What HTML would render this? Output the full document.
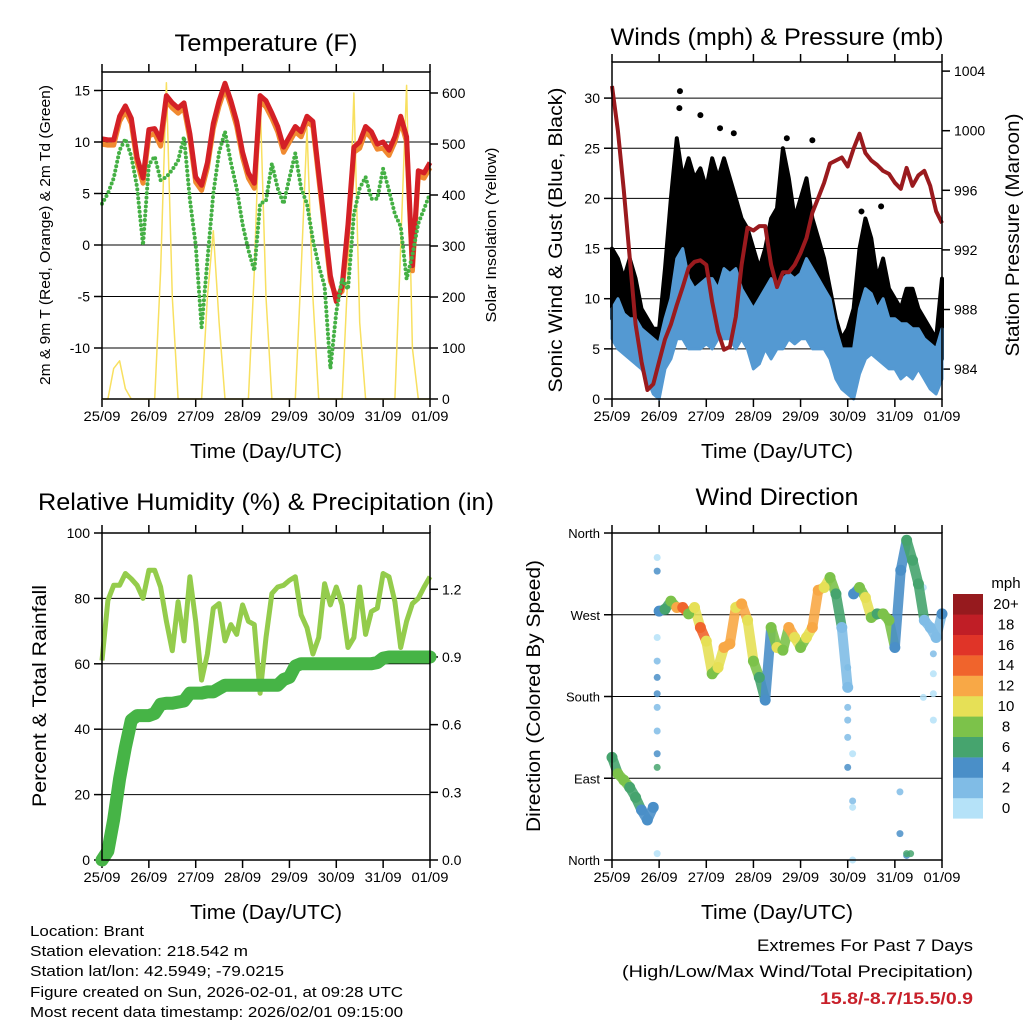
<!DOCTYPE html>
<html><head><meta charset="utf-8"><style>
body{margin:0;background:#fff}
svg{display:block}
text{font-family:"Liberation Sans",Arial,sans-serif;fill:#000}
</style></head><body>
<svg id="fig" width="1024" height="1024" viewBox="0 0 1024 1024" xmlns="http://www.w3.org/2000/svg">
<g id="p1"></g>
<g id="p2"></g>
<g id="p3"></g>
<g id="p4"></g>
<g id="info">
<text x="30" y="936" font-size="15" textLength="114" lengthAdjust="spacingAndGlyphs">Location: Brant</text>
<text x="30" y="956" font-size="15" textLength="218" lengthAdjust="spacingAndGlyphs">Station elevation: 218.542 m</text>
<text x="30" y="976" font-size="15" textLength="254" lengthAdjust="spacingAndGlyphs">Station lat/lon: 42.5949; -79.0215</text>
<text x="30" y="997" font-size="15" textLength="373" lengthAdjust="spacingAndGlyphs">Figure created on Sun, 2026-02-01, at 09:28 UTC</text>
<text x="30" y="1017" font-size="15" textLength="373" lengthAdjust="spacingAndGlyphs">Most recent data timestamp: 2026/02/01 09:15:00</text>
<text x="757" y="951" font-size="17" textLength="216" lengthAdjust="spacingAndGlyphs">Extremes For Past 7 Days</text>
<text x="622" y="977" font-size="17" textLength="351" lengthAdjust="spacingAndGlyphs">(High/Low/Max Wind/Total Precipitation)</text>
<text x="820" y="1004" font-size="17" font-weight="bold" style="fill:#c8202a" textLength="153" lengthAdjust="spacingAndGlyphs">15.8/-8.7/15.5/0.9</text>
</g>
</svg>
<script>
// ---- shared time axis ----
const dayLabels=["25/09","26/09","27/09","28/09","29/09","30/09","31/09","01/09"];
// 3-hourly samples (hours from start)
const hours=[0,3,6,9,12,15,18,21,24,27,30,33,36,39,42,45,48,51,54,57,60,63,66,69,72,75,78,81,84,87,90,93,96,99,102,105,108,111,114,117,120,123,126,129,132,135,138,141,144,147,150,153,156,159,162,165,168];
// ---- Temperature panel ----
const tempRed=[10.3,10.2,10.2,12.5,13.5,12.3,8.5,6.5,11.2,11.3,10.2,14.5,13.8,13.3,13.8,10.8,6.6,5.8,8,11.8,14,15.7,14,12,9,7,6,14.5,14,12.8,11.5,9.5,10.5,11.5,11,12.5,12,7,2,-3,-5.5,-4,2,9.5,10,11.5,11,9.8,10,9.2,10.5,12.5,10.5,-2,7.2,7,8];
const tempOrange=[9.8,9.7,9.7,12,13,11.8,8,6,10.6,10.8,9.6,14,13.3,12.8,13.3,10.3,6.1,5.3,7.5,11.3,13.5,15.2,13.5,11.5,8.5,6.5,5.5,14,13.4,12.3,11,9,10,11,10.5,12,11.5,6.5,1.5,-3.5,-5,-4.5,1.5,9,9.4,11,10.4,9.3,9.4,8.7,10,12,10,-2.5,6.7,6.5,7.5];
const dewGreen=[4,5,6.5,9.2,10.3,8.6,5.6,0,7.8,8.6,6.3,6.6,7.3,8.2,10.5,4.4,0,-8,-1.5,5,9,11,8,5.5,2,-0.5,-2.5,4,4.3,7.9,5.5,4,6.5,8.9,5.5,4,0.5,-2,-4,-12,-6.5,-3.3,-4.3,3,5.5,6.6,4.5,4.5,7.4,5.3,3,1.8,-3.3,-1,2.1,3.5,5];
const solar=[0,0,60,75,20,0,0,0,0,0,250,620,200,0,0,0,0,0,200,330,150,0,0,0,0,0,250,590,200,0,0,0,0,0,250,530,200,0,0,0,0,0,250,600,150,0,0,0,0,0,0,300,615,100,0,0,0];
const tempTicks=[15,10,5,0,-5,-10];
const solarTicks=[600,500,400,300,200,100,0];
// ---- Winds panel ----
const windHi=[9,10,8.5,8,8,7,6.5,6,5.5,8,10,14,15,12,11,11.5,12,12,11,13,12.5,13,11,10,9,10,11,12,11,12,12.5,12,12.5,14,13,12,11,10,7,5,5,5,9,11,10.5,9,10,8,8,7.5,7.5,7,7,6,5.5,5,7];
const windLo=[6,5,4.5,4,3.5,3,2,0.5,0,3,4,6,6,5,5,5,5.5,5,6,6,6,5,6,5,3,3.5,5,4,5,5,6,5.5,6,6,5,5,5,4,2,1,0.5,0,2.5,4,4.5,4,3.5,3,3,2,2.5,2,3,2,1,0.5,2];
const gustHi=[15,14,12,14,12,9,8,7,7,13,20,26,22,24,22,23,21,24,22,24,22,20,18,17,15,13,15,18,19,25,22,18,20,22,18,16,14,11,8,6,7,9,15,18,16,12,14,11,10,9,11,11,9,8,7,6,12];
const gustLo=[8,8,7,6,5,4,3,2,1,4,7,9,10,10,10,11,10,10,11,12,10,9,8,7,6,6,7,8,8,10,10,9,10,9,8,8,6,5,3,2,1,1,5,8,7,6,5,5,4,4,5,4,3,3,3,2,4];
const gustOutT=[34.6,34.3,45,55,62,89,102,127,137];
const gustOutV=[30.7,29,28.3,27,26.5,26,25.8,18.7,19.2];
const pressure=[1003,1000,996,991.5,987,984.5,982.6,983,984.5,986,987,988.3,989.5,990.8,991.2,991.3,991,988.5,986.5,985.3,985.5,987.5,991,993.5,993.3,993.6,993.6,991,989.5,990.5,990.5,991,991.8,992.8,994.5,995.5,996.5,997.8,998,998.2,997.6,998.8,999.8,998.5,998,997.7,997.3,997.1,996.5,996.1,997.5,996.3,997,997.3,996.3,994.6,993.8];
const windTicks=[0,5,10,15,20,25,30];
const presTicks=[1004,1000,996,992,988,984];
// ---- Humidity panel ----
const rh=[61,79.4,84,84,87.6,86,84,80,88.6,88.6,83.5,73,64,79,67,86.6,73,55,63,77,78.4,67,72,69,78,73,72,51,68,81.5,83.5,84,85.5,86.6,75,71,63,68,84.5,78,83.5,78,65,68,83.5,69,76,77,87.6,86.6,79,65,73,78.4,80,83.5,86.6];
const precip=[0,0.04,0.18,0.36,0.5,0.62,0.64,0.64,0.64,0.65,0.69,0.695,0.695,0.7,0.705,0.74,0.74,0.74,0.745,0.745,0.76,0.775,0.775,0.775,0.775,0.775,0.775,0.775,0.775,0.775,0.775,0.8,0.81,0.86,0.87,0.87,0.87,0.87,0.87,0.87,0.87,0.87,0.87,0.87,0.87,0.87,0.87,0.875,0.895,0.9,0.9,0.9,0.9,0.9,0.9,0.9,0.9];
const rhTicks=[0,20,40,60,80,100];
const precipTicks=[0,0.3,0.6,0.9,1.2];
// ---- Wind direction panel ----
const dirDeg=[113,95,88,80,69,55,44,58,274,276,285,278,278,271,278,256,241,205,212,234,238,278,282,264,219,201,176,256,234,231,256,245,234,245,256,297,300,311,293,256,190,293,300,289,267,271,271,264,234,319,352,330,304,264,256,245,271];
const dirSpeed=[7,9,8,7,6,5,5,4,5,6,8,12,14,9,10,14,11,8,10,12,12,10,12,10,8,6,5,8,10,8,12,11,9,10,13,12,10,8,6,3,2,4,9,10,8,6,9,8,4,4,6,6,6,2,3,2,4];
const extraT=[23,23,23,23,23,23,23,23,23,23,23,120,120,120,120,120,120,122.5,122.5,122.5,122.5,146.6,146.6,150,150,152,163.6,163.6,163.6,163.6,158.5,158.5];
const extraDeg=[333,318,245,219,201,183,168,142,117,102,7,212,190,168,154,135,102,117,65,58,0,75,29,5,7,7,227,205,183,154,179,300];
const extraSpeed=[1,4,1,3,4,4,2,3,5,6,1,2,4,2,3,2,4,1,2,1,1,3,4,5,6,6,2,1,1,1,1,1];
const dirTicks=[0,90,180,270,360];
const dirLabels=["North","East","South","West","North"];
const speedBins=["0","2","4","6","8","10","12","14","16","18","20+"];
const speedColors=["#b5e2f8","#80bce6","#4a8fc8","#46a46e","#7cc24a","#e6e056","#f8a846","#f0642c","#e03428","#c01e26","#961a1e"];

const NS="http://www.w3.org/2000/svg";
function mk(parent,tag,attrs,txt){const e=document.createElementNS(NS,tag);for(const k in attrs)e.setAttribute(k,attrs[k]);if(txt!==undefined)e.textContent=txt;parent.appendChild(e);return e;}
function pathD(xs,ys){let d="";for(let i=0;i<xs.length;i++)d+=(i?"L":"M")+xs[i].toFixed(1)+","+ys[i].toFixed(1);return d;}

function frame(g,L,R,T,B,xTitleY){
  const xs=t=>L+t*(R-L)/168;
  for(let d=0;d<8;d++){
    const x=xs(d*24);
    let tk=mk(g,"line",{x1:x,x2:x,y1:B,y2:B+8,stroke:"#000","stroke-width":1.5});
    
    
    let tk2=mk(g,"line",{x1:x,x2:x,y1:T,y2:T-8,stroke:"#000","stroke-width":1.5});
    
    
    let lb=mk(g,"text",{x:x,y:B+22,"font-size":14,"text-anchor":"middle",textLength:37,lengthAdjust:"spacingAndGlyphs"},dayLabels[d]);
    
    
  }
  let tt=mk(g,"text",{x:(L+R)/2,y:xTitleY,"font-size":20,"text-anchor":"middle",textLength:152,lengthAdjust:"spacingAndGlyphs"},"Time (Day/UTC)");
  
  
  return xs;
}
function border(g,L,R,T,B){
  let r=mk(g,"rect",{x:L,y:T,width:R-L,height:B-T,fill:"none",stroke:"#000","stroke-width":1.5});
  
  
}
function grid(g,L,R,y){
  let l=mk(g,"line",{x1:L,x2:R,y1:y,y2:y,stroke:"#000","stroke-width":1});
  
  
}
function ytick(g,x,y,dir,label,anchor,fs){
  let l=mk(g,"line",{x1:x,x2:x+dir*8,y1:y,y2:y,stroke:"#000","stroke-width":1.5});
  
  
  let t=mk(g,"text",{x:x+dir*12,y:y+5,"font-size":fs||14,"text-anchor":anchor},label);
  
  
}
function vtitle(g,x,y,txt,fs,len,name){
  let t=mk(g,"text",{x:0,y:0,"font-size":fs,"text-anchor":"middle",transform:`translate(${x},${y}) rotate(-90)`},txt);
  if(len){t.setAttribute("textLength",len);t.setAttribute("lengthAdjust","spacingAndGlyphs");}
  
  
}
function title(g,x,y,txt,len,name){
  let t=mk(g,"text",{x:x,y:y,"font-size":24,"text-anchor":"middle",textLength:len,lengthAdjust:"spacingAndGlyphs"},txt);
  
  
}

// ===== Panel 1 =====
(function(){
  const g=document.getElementById("p1");
  const L=102,R=430,T=72,B=399;
  const yT=v=>245-v*10.3, yS=v=>399-v*0.51;
  title(g,266,51,"Temperature (F)",183,"temperature-title");
  const xs=frame(g,L,R,T,B,458);
  tempTicks.forEach(v=>{grid(g,L,R,yT(v));ytick(g,L,yT(v),-1,String(v),"end");});
  solarTicks.forEach(v=>{ytick(g,R,yS(v),1,String(v),"start");});
  const X=hours.map(xs);
  let s=mk(g,"path",{d:pathD(X,solar.map(yS)),fill:"none",stroke:"#f8e060","stroke-width":1.5,"stroke-linejoin":"round"});
  
  
  let o=mk(g,"path",{d:pathD(X,tempOrange.map(yT)),fill:"none",stroke:"#f08a30","stroke-width":5,"stroke-linejoin":"round"});
  
  
  let r=mk(g,"path",{d:pathD(X,tempRed.map(yT)),fill:"none",stroke:"#d42026","stroke-width":5,"stroke-linejoin":"round"});
  
  
  let gr=mk(g,"path",{d:pathD(X,dewGreen.map(yT)),fill:"none",stroke:"#44b044","stroke-width":4,"stroke-linecap":"round","stroke-dasharray":"0 4.5"});
  
  
  border(g,L,R,T,B);
  vtitle(g,50,235,"2m & 9m T (Red, Orange) & 2m Td (Green)",15,300,"left-y-axis-title");
  vtitle(g,496,235,"Solar Insolation (Yellow)",15,175,"right-y-axis-title");
})();

// ===== Panel 2 =====
(function(){
  const g=document.getElementById("p2");
  const L=612,R=942,T=62,B=399;
  const yW=v=>399-v*10.03, yP=p=>130.7-(p-1000)*14.9;
  title(g,777,45,"Winds (mph) & Pressure (mb)",333,"winds-title");
  const xs=frame(g,L,R,T,B,458);
  windTicks.forEach(v=>{grid(g,L,R,yW(v));ytick(g,L,yW(v),-1,String(v),"end");});
  presTicks.forEach(v=>{ytick(g,R,yP(v),1,String(v),"start");});
  const X=hours.map(xs);
  let gd=pathD(X,gustHi.map(yW))+pathD(X.slice().reverse(),gustLo.slice().reverse().map(yW)).replace("M","L")+"Z";
  let gb=mk(g,"path",{d:gd,fill:"#000",stroke:"#000","stroke-width":4,"stroke-linejoin":"round"});
  
  
  for(let i=0;i<gustOutT.length;i++){
    let c=mk(g,"circle",{cx:xs(gustOutT[i]),cy:yW(gustOutV[i]),r:3,fill:"#000"});
    
    
  }
  let wd=pathD(X,windHi.map(yW))+pathD(X.slice().reverse(),windLo.slice().reverse().map(yW)).replace("M","L")+"Z";
  let wb=mk(g,"path",{d:wd,fill:"#5499d2",stroke:"#5499d2","stroke-width":3,"stroke-linejoin":"round"});
  
  
  let p=mk(g,"path",{d:pathD(X,pressure.map(yP)),fill:"none",stroke:"#9a1a1e","stroke-width":4,"stroke-linejoin":"round"});
  
  
  border(g,L,R,T,B);
  vtitle(g,562,240,"Sonic Wind & Gust (Blue, Black)",19,305,"left-y-axis-title");
  vtitle(g,1019,235,"Station Pressure (Maroon)",19,243,"right-y-axis-title");
})();

// ===== Panel 3 =====
(function(){
  const g=document.getElementById("p3");
  const L=102,R=430,T=533,B=860;
  const yR=v=>860-v*3.27, yPr=v=>860-v*225.6;
  title(g,266,510,"Relative Humidity (%) & Precipitation (in)",456,"humidity-title");
  const xs=frame(g,L,R,T,B,919);
  rhTicks.forEach(v=>{if(v>0&&v<100)grid(g,L,R,yR(v));ytick(g,L,yR(v),-1,String(v),"end");});
  precipTicks.forEach(v=>{ytick(g,R,yPr(v),1,v.toFixed(1),"start");});
  const X=hours.map(xs);
  let r=mk(g,"path",{d:pathD(X,rh.map(yR)),fill:"none",stroke:"#94cc4c","stroke-width":5,"stroke-linejoin":"round"});
  
  
  let p=mk(g,"path",{d:pathD(X,precip.map(yPr)),fill:"none",stroke:"#46b446","stroke-width":13,"stroke-linejoin":"round","stroke-linecap":"round"});
  
  
  border(g,L,R,T,B);
  vtitle(g,46,696,"Percent & Total Rainfall",19,222,"left-y-axis-title");
})();

// ===== Panel 4 =====
(function(){
  const g=document.getElementById("p4");
  const L=612,R=942,T=533,B=860;
  const yD=d=>860-d*0.9083;
  const col=s=>speedColors[Math.max(0,Math.min(10,Math.floor(s/2)))];
  title(g,777,505,"Wind Direction",163,"wind-direction-title");
  const xs=frame(g,L,R,T,B,919);
  dirTicks.forEach((v,i)=>{if(v>0&&v<360)grid(g,L,R,yD(v));ytick(g,L,yD(v),-1,dirLabels[i],"end",13);});
  for(let i=0;i<extraT.length;i++){
    let c=mk(g,"circle",{cx:xs(extraT[i]),cy:yD(extraDeg[i]),r:3.5,fill:col(extraSpeed[i]),"fill-opacity":0.85});
    
    
  }
  for(let i=0;i<hours.length-1;i++){
    if(Math.abs(dirDeg[i+1]-dirDeg[i])>90)continue;
    let s=mk(g,"line",{x1:xs(hours[i]),y1:yD(dirDeg[i]),x2:xs(hours[i+1]),y2:yD(dirDeg[i+1]),stroke:col(dirSpeed[i]),"stroke-width":10,"stroke-linecap":"round","stroke-opacity":0.9});
    
    
  }
  for(let i=0;i<hours.length;i++){
    let c=mk(g,"circle",{cx:xs(hours[i]),cy:yD(dirDeg[i]),r:5.5,fill:col(dirSpeed[i])});
    
    
  }
  border(g,L,R,T,B);
  vtitle(g,540,696,"Direction (Colored By Speed)",19,272,"left-y-axis-title");
  let u=mk(g,"text",{x:1006,y:588,"font-size":15,"text-anchor":"middle"},"mph");
  
  
  for(let i=0;i<speedBins.length;i++){
    const y=594+(10-i)*20.4;
    let b=mk(g,"rect",{x:953,y:y,width:30,height:20.6,fill:speedColors[i]});
    
    
    let t=mk(g,"text",{x:1006,y:y+15,"font-size":15,"text-anchor":"middle"},speedBins[i]);
    
    
  }
})();
</script>
</body></html>
